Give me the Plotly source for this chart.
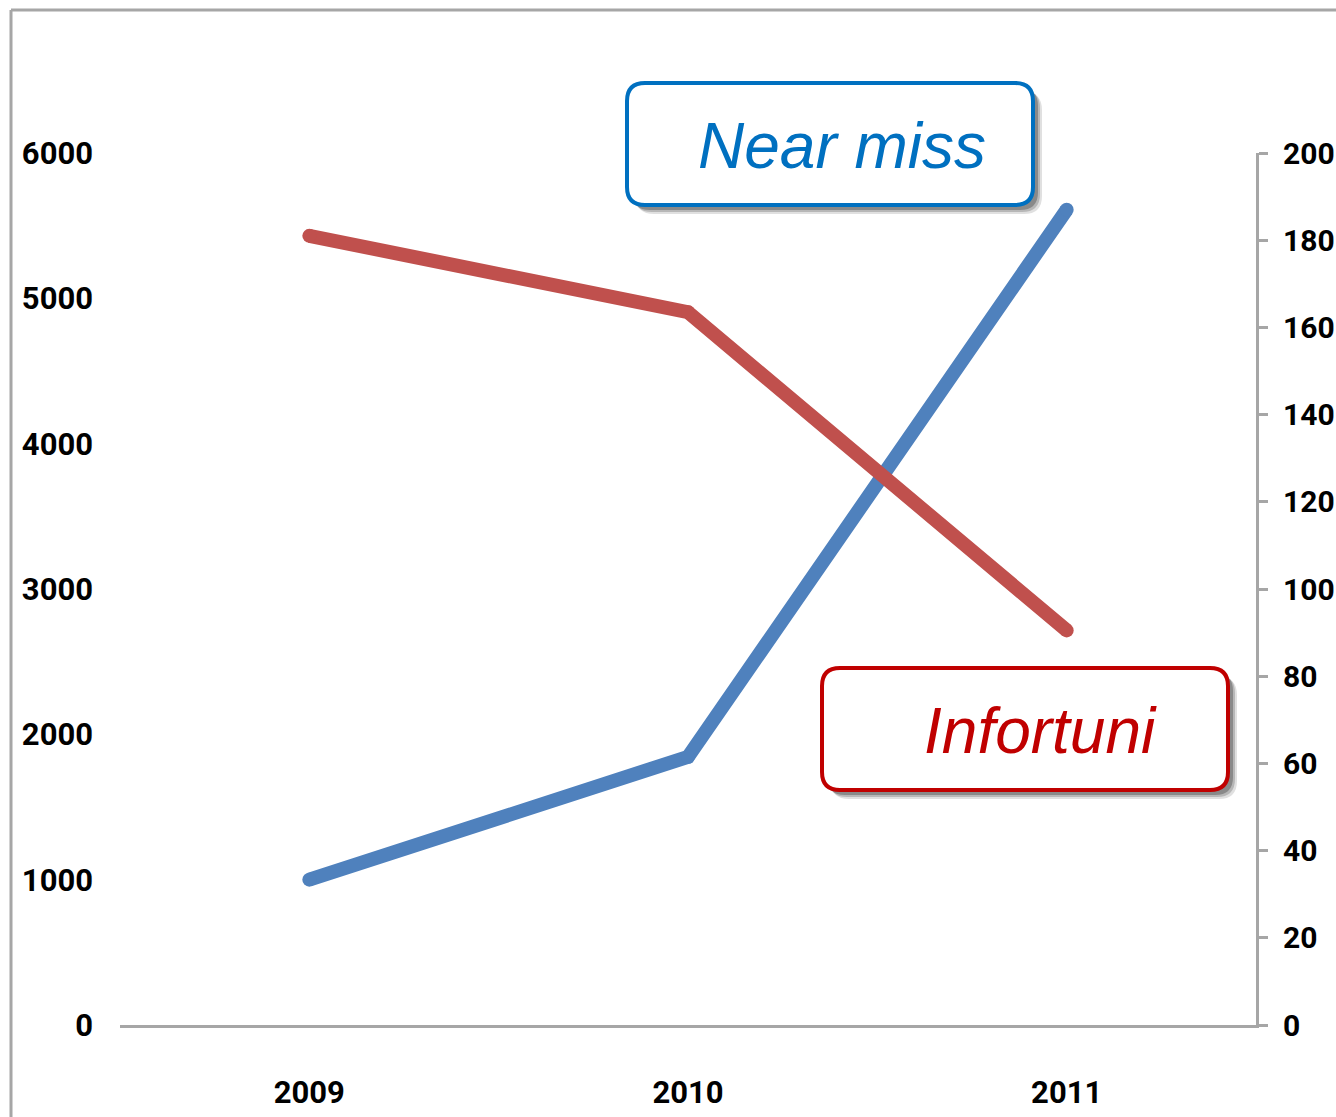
import plotly.graph_objects as go

years = ["2009", "2010", "2011"]
near_miss = [1000, 1845, 5610]      # left axis
infortuni = [181, 163.5, 90.5]      # right axis
left_ticks = [0, 1000, 2000, 3000, 4000, 5000, 6000]
right_ticks = [0, 20, 40, 60, 80, 100, 120, 140, 160, 180, 200]

BLUE = "#4F81BD"
RED = "#C0504D"
GRAY = "#A6A6A6"
TICKFONT = dict(family="Liberation Sans Narrow, Roboto, Liberation Sans", size=31, color="black", weight="bold")
TICKFONT_R = dict(family="Liberation Sans Narrow, Roboto, Liberation Sans", size=30, color="black", weight="bold")

fig = go.Figure()
fig.add_trace(go.Scatter(x=years, y=near_miss, mode="lines+markers", yaxis="y",
                         line=dict(color=BLUE, width=14),
                         marker=dict(color=BLUE, size=14, line=dict(width=0)),
                         name="Near miss", showlegend=False, hoverinfo="skip"))
fig.add_trace(go.Scatter(x=years, y=infortuni, mode="lines+markers", yaxis="y2",
                         line=dict(color=RED, width=14),
                         marker=dict(color=RED, size=14, line=dict(width=0)),
                         name="Infortuni", showlegend=False, hoverinfo="skip"))

W, H = 1336, 1117
L, R, T, B = 120, 80, 153, 92
pw, ph = W - L - R, H - T - B


def px(x):
    return (x - L) / pw


def py(y):
    return (H - B - y) / ph


def rrect(x0, y0, x1, y1, r):
    rx = r / pw
    ry = r / ph
    a, b, c, d = px(x0), px(x1), py(y0), py(y1)  # c top, d bottom
    return (f"M {a+rx},{c} L {b-rx},{c} Q {b},{c} {b},{c-ry} "
            f"L {b},{d+ry} Q {b},{d} {b-rx},{d} L {a+rx},{d} "
            f"Q {a},{d} {a},{d+ry} L {a},{c-ry} Q {a},{c} {a+rx},{c} Z")


shapes = []
# outer frame (left and top lines)
shapes.append(dict(type="line", xref="paper", yref="paper", x0=px(11), x1=px(11),
                   y0=py(10), y1=py(1117), line=dict(color=GRAY, width=3)))
shapes.append(dict(type="line", xref="paper", yref="paper", x0=px(11), x1=px(1336),
                   y0=py(10), y1=py(10), line=dict(color=GRAY, width=3)))

# boxes with shadows
for (x0, y0, x1, y1, col) in [(627, 83, 1033, 205, "#0070C0"), (822, 668, 1228, 790, "#C00000")]:
    for k, op in [(9, 0.12), (7, 0.18), (5, 0.25)]:
        shapes.append(dict(type="path", xref="paper", yref="paper",
                           path=rrect(x0 + k, y0 + k, x1 + k, y1 + k, 18),
                           fillcolor=f"rgba(0,0,0,{op})", line=dict(width=0), layer="above"))
    shapes.append(dict(type="path", xref="paper", yref="paper",
                       path=rrect(x0, y0, x1, y1, 18),
                       fillcolor="white", line=dict(color=col, width=4), layer="above"))

annotations = [
    dict(xref="paper", yref="paper", x=px(842), y=py(146), text="<i>Near miss</i>",
         showarrow=False, xanchor="center", yanchor="middle",
         font=dict(family="Liberation Sans, Arial", size=64, color="#0070C0")),
    dict(xref="paper", yref="paper", x=px(1040), y=py(731), text="<i>Infortuni</i>",
         showarrow=False, xanchor="center", yanchor="middle",
         font=dict(family="Liberation Sans, Arial", size=64, color="#C00000")),
]

fig.update_layout(
    width=W, height=H,
    margin=dict(l=L, r=R, t=T, b=B, pad=0, autoexpand=False),
    paper_bgcolor="white", plot_bgcolor="white",
    showlegend=False,
    hovermode=False,
    xaxis=dict(type="category", range=[-0.5, 2.5], showgrid=False, zeroline=False,
               showline=True, linecolor=GRAY, linewidth=3, ticks="", automargin=False,
               tickfont=TICKFONT, ticklabelstandoff=38),
    yaxis=dict(range=[0, 6000], tickvals=left_ticks, showgrid=False, zeroline=False,
               showline=False, ticks="", tickfont=TICKFONT, ticklabelstandoff=26,
               automargin=False),
    yaxis2=dict(range=[0, 200], tickvals=right_ticks, overlaying="y", side="right",
                showgrid=False, zeroline=False, showline=True, linecolor=GRAY, linewidth=3,
                ticks="outside", ticklen=9, tickcolor=GRAY, tickwidth=3, automargin=False,
                tickfont=TICKFONT_R, ticklabelstandoff=9),
    shapes=shapes,
    annotations=annotations,
)

fig.write_html("out.html", config={"displayModeBar": False},
               post_script="document.body.style.margin='0px';document.body.style.overflow='hidden';")
